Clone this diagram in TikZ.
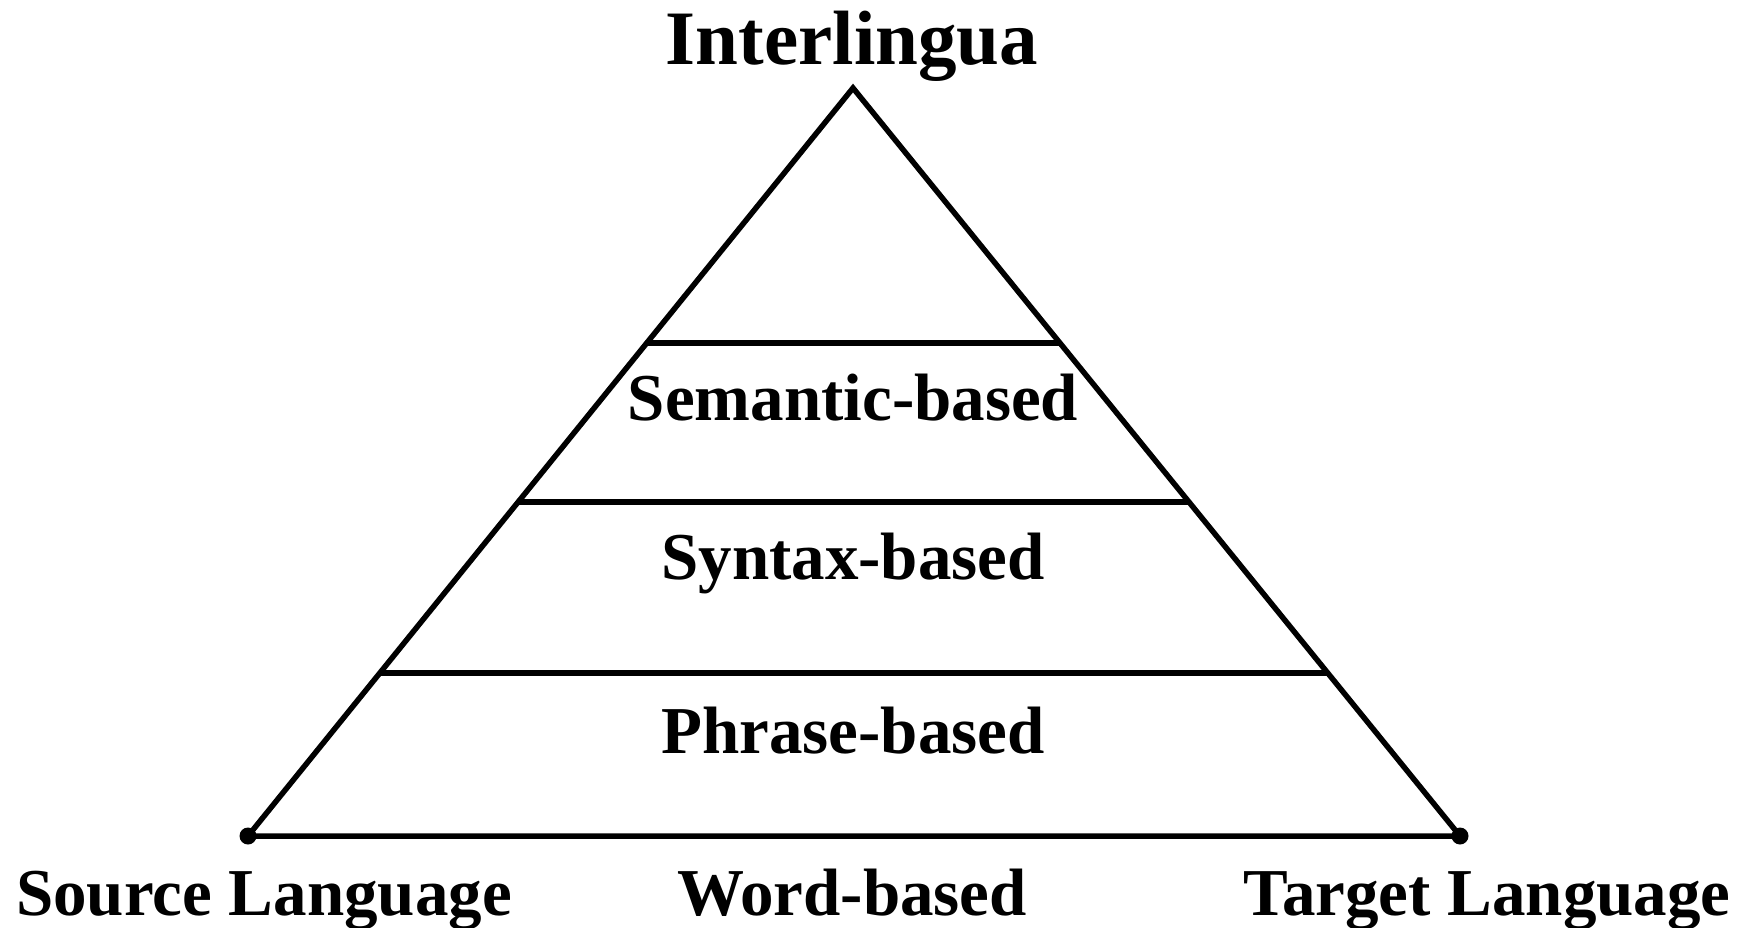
\documentclass[tikz,border=0pt]{standalone}
\usepackage{fontspec}
\setmainfont{Liberation Serif}
\usetikzlibrary{calc}
\begin{document}
\begin{tikzpicture}[x=1pt,y=-1pt,
  edge/.style={line width=5.5pt,line join=miter},
  lbl/.style={anchor=base,inner sep=0pt,font=\bfseries\fontsize{67}{80}\selectfont},
  dotnode/.style={circle,fill=black,inner sep=0pt,minimum size=17pt}]
\useasboundingbox (0,0) rectangle (1750,928);
\coordinate (apex) at (853,88);
\node[dotnode] (src) at (248,836) {};
\node[dotnode] (tgt) at (1460,836) {};
\draw[edge] (src.center) -- (apex) -- (tgt.center) -- cycle;
\coordinate (s1) at ($(apex)!0.341!(src.center)$);
\coordinate (s2) at ($(apex)!0.341!(tgt.center)$);
\coordinate (y1) at ($(apex)!0.5535!(src.center)$);
\coordinate (y2) at ($(apex)!0.5535!(tgt.center)$);
\coordinate (p1) at ($(apex)!0.782!(src.center)$);
\coordinate (p2) at ($(apex)!0.782!(tgt.center)$);
\draw[edge] (s1) -- (s2);
\draw[edge] (y1) -- (y2);
\draw[edge] (p1) -- (p2);
\node[lbl,font=\bfseries\fontsize{77}{90}\selectfont] (inter) at (852,65) {Interlingua};
\node[lbl] (sem) at (853,420) {Semantic-based};
\node[lbl] (syn) at (853,579) {Syntax-based};
\node[lbl] (phr) at (853,753) {Phrase-based};
\node[lbl] (word) at (852,915) {Word-based};
\node[lbl] (srcl) at (264,915) {Source Language};
\node[lbl] (tgtl) at (1487,915) {Target Language};
\end{tikzpicture}
\end{document}
